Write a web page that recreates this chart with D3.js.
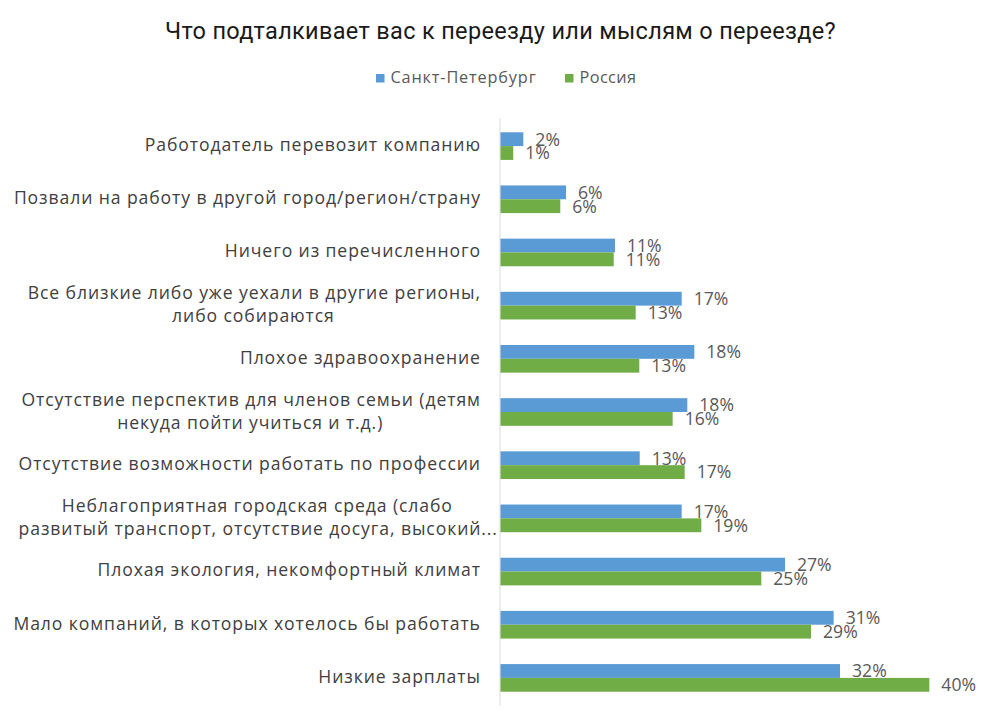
<!DOCTYPE html>
<html><head><meta charset="utf-8">
<script src="https://cdn.jsdelivr.net/npm/d3@7/dist/d3.min.js"></script>
<style>body{margin:0;background:#fff}</style>
</head><body>
<svg id="chart" width="1001" height="727"></svg>
<script>
// ---- data ----
const title = "Что подталкивает вас к переезду или мыслям о переезде?";
const seriesNames = ["Санкт-Петербург", "Россия"];
const categories = [
  "Работодатель перевозит компанию",
  "Позвали на работу в другой город/регион/страну",
  "Ничего из перечисленного",
  "Все близкие либо уже уехали в другие регионы,\nлибо собираются",
  "Плохое здравоохранение",
  "Отсутствие перспектив для членов семьи (детям\nнекуда пойти учиться и т.д.)",
  "Отсутствие возможности работать по профессии",
  "Неблагоприятная городская среда (слабо\nразвитый транспорт, отсутствие досуга, высокий...",
  "Плохая экология, некомфортный климат",
  "Мало компаний, в которых хотелось бы работать",
  "Низкие зарплаты"
];
const spb = [2.15, 6.17, 10.78, 17.06, 18.25, 17.59, 13.11, 17.06, 26.79, 31.37, 31.97];
const rus = [1.2, 5.63, 10.66, 12.73, 13.07, 16.21, 17.34, 18.91, 24.56, 29.24, 40.38];
const colors = ["#5B9BD5", "#70AD47"];

// ---- layout ----
const svg = d3.select("#chart");
const labelFont = "'Open Sans', sans-serif";
const x = d3.scaleLinear().domain([0, 45]).range([500.5, 978.4]);
const y = d3.scaleBand().domain(d3.range(categories.length))
  .range([119.5, 704.5]).paddingInner(0.48).paddingOuter(0.24);
const bh = y.bandwidth() / 2;

function fitWidth(sel, target) {
  const n = sel.text().length;
  const w = sel.node().getBBox().width;
  sel.attr("letter-spacing", (target - w) / n);
}

// title
const t = svg.append("text").attr("x", 500.5).attr("y", 39)
  .attr("text-anchor", "middle").attr("font-family", "Roboto, sans-serif")
  .attr("font-size", 23.5).attr("fill", "#1a1a1a").text(title);
fitWidth(t, 671);

// legend
const legendX = [376, 565];
const legendW = [146, 57];
seriesNames.forEach((name, i) => {
  svg.append("rect").attr("x", legendX[i]).attr("y", 74).attr("width", 8.5).attr("height", 8.5).attr("fill", colors[i]);
  const lt = svg.append("text").attr("x", legendX[i] + 14.5).attr("y", 82.7)
    .attr("font-family", labelFont).attr("font-size", 16.3).attr("fill", "#595959").text(name);
  fitWidth(lt, legendW[i]);
});

// axis line
svg.append("line").attr("x1", 500).attr("x2", 500)
  .attr("y1", y.range()[0] - 1).attr("y2", y.range()[1] + 1)
  .attr("stroke", "#d9d9d9").attr("stroke-width", 1);

// bars
const series = [spb, rus];
series.forEach((vals, si) => {
  svg.append("g").selectAll("rect").data(vals).join("rect")
    .attr("x", x(0)).attr("y", (d, i) => y(i) + si * bh)
    .attr("width", d => x(d) - x(0)).attr("height", bh)
    .attr("fill", colors[si]);
  svg.append("g").selectAll("text").data(vals).join("text")
    .attr("x", d => x(d) + 12).attr("y", (d, i) => y(i) + si * bh + bh / 2)
    .attr("dy", "0.36em")
    .attr("font-family", labelFont).attr("font-size", 17.6).attr("fill", "#595959")
    .text(d => Math.round(d) + "%");
});

// category labels
const catG = svg.append("g").attr("font-family", labelFont).attr("font-size", 17.6).attr("fill", "#404040");
const probe = catG.append("text").text(categories[1]);
const pw = probe.node().getComputedTextLength();
probe.remove();
const ls = (467 - pw) / (categories[1].length);
catG.attr("letter-spacing", ls);

categories.forEach((c, i) => {
  const lines = c.split("\n");
  const cy = y(i) + y.bandwidth() / 2;
  if (lines.length === 1) {
    catG.append("text").attr("x", 480 + ls).attr("y", cy - 1.5).attr("dy", "0.36em")
      .attr("text-anchor", "end").text(lines[0]);
  } else {
    // the widest line is right-aligned, the others centred on it
    const truncated = lines[lines.length - 1].endsWith("...");
    const keyIdx = truncated ? lines.length - 1 : 0;
    const right = truncated ? 497 : 480;
    lines.forEach((l, k) => {
      const ty = cy + (k - (lines.length - 1) / 2) * 23 - 1;
      const tx = catG.append("text").attr("y", ty).attr("dy", "0.36em").text(l);
      if (k === keyIdx) {
        tx.attr("x", right + ls).attr("text-anchor", "end");
      }
    });
    const texts = catG.selectAll("text").nodes().slice(-lines.length);
    const kw = texts[keyIdx].getComputedTextLength();
    texts.forEach((node, k) => {
      if (k !== keyIdx) d3.select(node).attr("x", right - kw / 2).attr("text-anchor", "middle");
    });
  }
});
</script>
</body></html>
